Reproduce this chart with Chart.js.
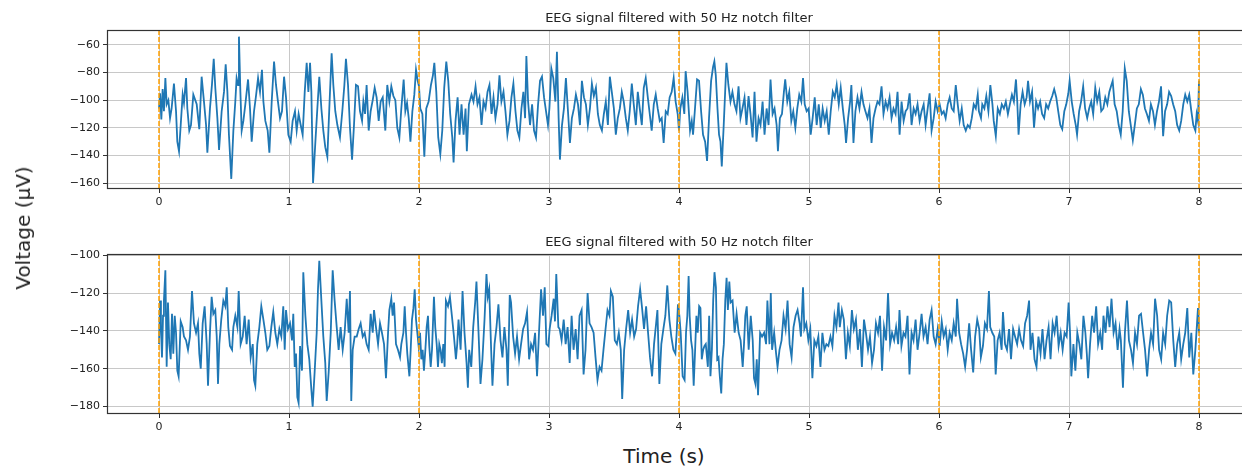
<!DOCTYPE html>
<html>
<head>
<meta charset="utf-8">
<script src="https://cdn.jsdelivr.net/npm/chart.js@4.4.1/dist/chart.umd.min.js"></script>
<style>
  html, body { margin: 0; padding: 0; background: #fff; }
  body { width: 1242px; height: 466px; overflow: hidden; position: relative; font-family: "DejaVu Sans", sans-serif; }
  .panel { position: absolute; left: 0; }
  #topPanel { top: 0; }
  #bottomPanel { top: 225px; }
  .ylabel { position: absolute; left: 23px; top: 228px; transform: translate(-50%, -50%) rotate(-90deg); font-size: 20px; color: #222; white-space: nowrap; }
  .xlabel { position: absolute; left: 664px; top: 456px; transform: translate(-50%, -50%); font-size: 20px; color: #222; white-space: nowrap; }
</style>
</head>
<body>
<canvas id="topPanel" class="panel" width="1260" height="215"></canvas>
<canvas id="bottomPanel" class="panel" width="1260" height="215"></canvas>
<div class="ylabel">Voltage (µV)</div>
<div class="xlabel">Time (s)</div>
<script>
// Titles and axis ticks
const panelTitle = "EEG signal filtered with 50 Hz notch filter";
const xTicks = [0, 1, 2, 3, 4, 5, 6, 7, 8];
const topYTicks = [-60, -80, -100, -120, -140, -160];
const bottomYTicks = [-100, -120, -140, -160, -180];
const markerTimes = [0, 2, 4, 6, 8]; // orange dashed markers
const xLimits = [-0.4, 8.4];
const topYLimits = [-164.3, -49.2];
const bottomYLimits = [-183.9, -99.4];

// Top trace (time in s, voltage in µV)
const topTimes = [
  0, 0.008, 0.018, 0.028, 0.038, 0.049, 0.059, 0.072, 0.085, 0.097,
  0.115, 0.131, 0.141, 0.154, 0.167, 0.182, 0.192, 0.208, 0.218, 0.233,
  0.246, 0.264, 0.290, 0.310, 0.328, 0.346, 0.362, 0.372, 0.392, 0.408,
  0.421, 0.433, 0.449, 0.462, 0.482, 0.500, 0.513, 0.526, 0.538, 0.556,
  0.572, 0.587, 0.597, 0.608, 0.615, 0.626, 0.636, 0.649, 0.664, 0.685,
  0.700, 0.713, 0.731, 0.746, 0.762, 0.777, 0.792, 0.803, 0.818, 0.836,
  0.849, 0.867, 0.885, 0.900, 0.915, 0.931, 0.946, 0.962, 0.977, 0.995,
  1.013, 1.028, 1.046, 1.059, 1.074, 1.090, 1.105, 1.121, 1.136, 1.149,
  1.162, 1.172, 1.185, 1.203, 1.218, 1.233, 1.249, 1.264, 1.279, 1.295,
  1.310, 1.328, 1.341, 1.356, 1.372, 1.392, 1.410, 1.426, 1.438, 1.454,
  1.469, 1.485, 1.500, 1.515, 1.531, 1.546, 1.562, 1.572, 1.585, 1.597,
  1.613, 1.628, 1.644, 1.659, 1.674, 1.690, 1.705, 1.721, 1.741, 1.756,
  1.772, 1.787, 1.803, 1.818, 1.833, 1.849,
  1.864, 1.882, 1.895, 1.908, 1.921, 1.934, 1.949, 1.964, 1.977, 1.990,
  2.000, 2.010, 2.026, 2.041, 2.056, 2.074, 2.092, 2.107, 2.118, 2.133,
  2.148, 2.164, 2.179, 2.194, 2.210, 2.225, 2.240, 2.256, 2.266, 2.281,
  2.297, 2.312, 2.327, 2.343, 2.358, 2.368, 2.384, 2.404, 2.419, 2.435,
  2.450, 2.465, 2.481, 2.496, 2.512, 2.527, 2.542, 2.558, 2.573, 2.588,
  2.604, 2.619, 2.634, 2.650, 2.665, 2.680, 2.696, 2.711, 2.726, 2.742,
  2.757, 2.772, 2.788, 2.803, 2.816, 2.826, 2.839, 2.854, 2.870, 2.885,
  2.900, 2.916, 2.931, 2.946, 2.962, 2.977, 2.992, 3.003, 3.018, 3.033,
  3.049, 3.061, 3.074, 3.084, 3.100, 3.115, 3.130, 3.146, 3.161, 3.176,
  3.192, 3.207, 3.223, 3.238, 3.253, 3.269, 3.284, 3.299, 3.315, 3.330,
  3.345, 3.361, 3.376, 3.391, 3.407, 3.422, 3.437, 3.453, 3.468, 3.483,
  3.499, 3.514, 3.529, 3.545, 3.560, 3.575, 3.591, 3.606, 3.621, 3.637,
  3.652, 3.668, 3.683, 3.698, 3.714, 3.729, 3.744, 3.760, 3.775, 3.790,
  3.806, 3.821, 3.836, 3.852, 3.867, 3.882, 3.898, 3.913, 3.928, 3.944,
  3.959, 3.974, 3.990, 4.000, 4.010, 4.026, 4.041, 4.051, 4.066,
  4.085, 4.098, 4.108, 4.123, 4.139, 4.154, 4.170, 4.185, 4.201, 4.216,
  4.231, 4.247, 4.262, 4.272, 4.283, 4.296, 4.308, 4.319, 4.329, 4.344,
  4.355, 4.365, 4.380, 4.396, 4.411, 4.427, 4.442, 4.458, 4.473, 4.488,
  4.504, 4.519, 4.535, 4.550, 4.566, 4.581, 4.596, 4.612, 4.627, 4.643,
  4.658, 4.674, 4.689, 4.704, 4.720, 4.735, 4.751, 4.761, 4.776, 4.792,
  4.807, 4.817, 4.833, 4.848, 4.864, 4.879, 4.895, 4.910, 4.925, 4.941,
  4.954, 4.967, 4.982, 4.997, 5.013, 5.028, 5.044, 5.059, 5.075, 5.090,
  5.105, 5.121, 5.136, 5.152, 5.167, 5.183, 5.198, 5.213, 5.229, 5.244,
  5.260, 5.275, 5.285, 5.301, 5.316, 5.326, 5.342, 5.357, 5.373, 5.388,
  5.404, 5.419, 5.434, 5.450, 5.465, 5.481, 5.496, 5.512, 5.527, 5.542,
  5.558, 5.573, 5.589, 5.604, 5.620, 5.635, 5.650, 5.666, 5.681, 5.697,
  5.712, 5.728, 5.743, 5.758, 5.774, 5.789, 5.805, 5.820, 5.835, 5.851,
  5.866, 5.882, 5.897, 5.913, 5.928, 5.943, 5.959, 5.974, 5.990, 6.005,
  6.021, 6.036, 6.051, 6.067, 6.082, 6.098, 6.113, 6.129, 6.144, 6.159,
  6.175, 6.190, 6.206, 6.221, 6.237, 6.252, 6.267, 6.283, 6.298,
  6.307, 6.323, 6.333, 6.349, 6.364, 6.380, 6.395, 6.411, 6.421, 6.437,
  6.452, 6.468, 6.483, 6.499, 6.514, 6.530, 6.545, 6.561, 6.576, 6.592,
  6.602, 6.612, 6.628, 6.643, 6.659, 6.674, 6.685, 6.700, 6.716, 6.731,
  6.747, 6.762, 6.778, 6.793, 6.809, 6.824, 6.840, 6.855, 6.871, 6.886,
  6.902, 6.917, 6.933, 6.948, 6.964, 6.979, 6.995, 7.005, 7.021, 7.036,
  7.052, 7.062, 7.078, 7.093, 7.109, 7.124, 7.140, 7.155, 7.171, 7.186,
  7.202, 7.217, 7.233, 7.248, 7.264, 7.279, 7.295, 7.310, 7.326, 7.336,
  7.351, 7.367, 7.382, 7.398, 7.413, 7.429, 7.444, 7.460, 7.475, 7.491,
  7.506, 7.522, 7.537, 7.553, 7.568, 7.584, 7.599, 7.615, 7.630, 7.646,
  7.661, 7.677, 7.692, 7.708, 7.724, 7.739, 7.755, 7.770, 7.786, 7.801,
  7.817, 7.832, 7.848, 7.863, 7.879, 7.894, 7.910, 7.925, 7.941, 7.956,
  7.972, 7.982, 7.992, 8.000
];
const topVolts = [
  -106, -95, -114, -92, -108, -84, -103, -100, -113, -106,
  -88, -108, -130, -137, -118, -96, -102, -84, -106, -122,
  -118, -96, -103, -121, -83, -101, -118, -138, -106, -88,
  -70, -91, -113, -136, -108, -94, -74, -94, -125, -157,
  -122, -101, -84, -89, -54, -94, -122, -115, -103, -85,
  -106, -130, -108, -97, -84, -94, -78, -101, -115, -122,
  -138, -101, -72, -89, -101, -113, -108, -83, -98, -125,
  -130, -115, -108, -122, -110, -118, -125, -94, -73, -94,
  -73, -94, -160, -130, -106, -83, -106, -122, -134, -141,
  -106, -66, -89, -108, -118, -127, -108, -89, -70, -89,
  -120, -143, -118, -89, -90, -108, -115, -101, -110, -89,
  -122, -108, -100, -91, -98, -115, -101, -98, -122, -89,
  -101, -90, -97, -100, -120, -127,
  -106, -85, -108, -102, -113, -130, -108, -96, -78, -86,
  -90, -106, -110, -141, -106, -101, -89, -82, -73, -94,
  -127, -139, -122, -91, -72, -86, -110, -127, -145, -115,
  -98, -125, -103, -125, -106, -137, -103, -96, -101, -90,
  -103, -98, -118, -101, -106, -94, -89, -110, -98, -113,
  -103, -82, -101, -94, -108, -125, -115, -98, -88, -108,
  -122, -127, -106, -94, -113, -68, -101, -118, -103, -122,
  -127, -103, -86, -83, -98, -108, -118, -106, -77, -84,
  -101, -65, -113, -143, -118, -106, -84, -108, -131, -113,
  -106, -96, -103, -118, -86, -98, -103, -118, -106, -88,
  -97, -91, -110, -118, -122, -110, -101, -118, -83, -94,
  -106, -125, -113, -106, -94, -101, -113, -122, -108, -88,
  -103, -118, -94, -106, -118, -91, -84, -98, -110, -122,
  -103, -96, -106, -115, -113, -131, -108, -110, -98, -94,
  -84, -101, -110, -122, -106, -98, -110, -79, -94,
  -122, -115, -125, -106, -85, -86, -108, -125, -130, -144,
  -113, -86, -76, -72, -82, -106, -125, -130, -148, -118,
  -94, -73, -89, -101, -94, -103, -108, -90, -113, -106,
  -98, -118, -97, -110, -127, -94, -130, -113, -118, -101,
  -125, -106, -118, -85, -110, -106, -118, -137, -113, -110,
  -94, -85, -101, -94, -115, -108, -120, -106, -96, -101,
  -84, -103, -108, -106, -125, -113, -98, -118, -103, -120,
  -106, -115, -108, -125, -108, -94, -98, -89, -103, -91,
  -106, -118, -131, -113, -101, -89, -131, -108, -98, -106,
  -94, -103, -108, -113, -106, -131, -113, -106, -101, -103,
  -90, -110, -101, -106, -98, -113, -106, -110, -94, -125,
  -101, -115, -108, -106, -95, -118, -106, -110, -103, -115,
  -108, -103, -118, -106, -95, -122, -113, -101, -108, -103,
  -110, -108, -113, -103, -98, -106, -108, -89, -103, -115,
  -106, -118, -122, -118, -120, -113, -103, -106, -96,
  -108, -113, -103, -106, -97, -108, -89, -103, -115, -126,
  -106, -110, -103, -106, -101, -110, -103, -96, -101, -85,
  -101, -125, -103, -94, -103, -98, -86, -101, -94, -120,
  -101, -106, -101, -110, -113, -103, -106, -101, -97, -92,
  -98, -108, -118, -121, -108, -103, -95, -86, -101, -110,
  -118, -125, -108, -101, -90, -106, -113, -106, -101, -110,
  -91, -101, -94, -108, -106, -98, -103, -94, -89, -86,
  -103, -108, -118, -125, -108, -77, -86, -108, -118, -129,
  -118, -106, -103, -92, -96, -106, -110, -115, -103, -108,
  -118, -108, -101, -90, -126, -108, -103, -94, -97, -103,
  -108, -118, -122, -115, -103, -96, -101, -96, -108, -118,
  -122, -110, -115, -86
];

// Bottom trace (time in s, voltage in µV)
const bottomTimes = [
  0.000, 0.008, 0.015, 0.023, 0.031, 0.038, 0.049, 0.059, 0.069, 0.079,
  0.090, 0.100, 0.110, 0.121, 0.131, 0.141, 0.151, 0.167, 0.182, 0.192,
  0.208, 0.223, 0.238, 0.254, 0.269, 0.285, 0.300, 0.310, 0.321, 0.336,
  0.351, 0.367, 0.377, 0.392, 0.405, 0.418, 0.433, 0.444, 0.454, 0.464,
  0.479, 0.495, 0.510, 0.521, 0.533, 0.546, 0.562, 0.572, 0.587, 0.603,
  0.613, 0.628, 0.644, 0.659, 0.674, 0.690, 0.705, 0.721, 0.731, 0.741,
  0.756, 0.772, 0.787, 0.803, 0.818, 0.833, 0.849, 0.864, 0.879, 0.895,
  0.910, 0.926, 0.941, 0.956, 0.967, 0.977, 0.992, 1.008, 1.023, 1.033,
  1.044, 1.054, 1.064, 1.074, 1.085, 1.100, 1.110, 1.126, 1.141, 1.156,
  1.172, 1.182, 1.197, 1.213, 1.223, 1.233, 1.249, 1.264, 1.279, 1.290,
  1.305, 1.321, 1.336, 1.351, 1.367, 1.382, 1.397, 1.413, 1.428, 1.444,
  1.459, 1.469, 1.479, 1.490, 1.505, 1.521, 1.536, 1.551, 1.567, 1.582,
  1.597, 1.613, 1.628, 1.644, 1.654, 1.669, 1.685, 1.700, 1.715, 1.731,
  1.746, 1.762, 1.772, 1.787, 1.797, 1.808, 1.823, 1.838, 1.854,
  1.864, 1.880, 1.890, 1.900, 1.910, 1.926, 1.936, 1.946, 1.957, 1.967,
  1.977, 1.987, 1.997, 2.008, 2.018, 2.028, 2.038, 2.049, 2.059, 2.069,
  2.079, 2.090, 2.100, 2.115, 2.125, 2.136, 2.146, 2.156, 2.166, 2.176,
  2.187, 2.197, 2.207, 2.223, 2.238, 2.253, 2.269, 2.284, 2.294, 2.304,
  2.320, 2.335, 2.350, 2.366, 2.376, 2.386, 2.402, 2.417, 2.432, 2.442,
  2.458, 2.473, 2.488, 2.504, 2.519, 2.529, 2.540, 2.555, 2.565, 2.581,
  2.596, 2.611, 2.627, 2.642, 2.657, 2.673, 2.683, 2.698, 2.708, 2.724,
  2.739, 2.754, 2.770, 2.785, 2.801, 2.816, 2.831, 2.847, 2.862, 2.877,
  2.893, 2.908, 2.923, 2.939, 2.954, 2.967, 2.980, 2.995, 3.005, 3.020,
  3.036, 3.046, 3.056, 3.072, 3.082, 3.097, 3.113, 3.128, 3.143, 3.159,
  3.174, 3.189, 3.205, 3.220, 3.235, 3.251, 3.266, 3.281, 3.297, 3.312,
  3.327, 3.343, 3.358, 3.373, 3.389, 3.404, 3.419, 3.435, 3.450, 3.465,
  3.476, 3.491, 3.506, 3.522, 3.537, 3.552, 3.563, 3.578, 3.593, 3.609,
  3.624, 3.639, 3.655, 3.670, 3.685, 3.701, 3.716, 3.731, 3.747, 3.762,
  3.777, 3.793, 3.808, 3.824, 3.834, 3.849, 3.864, 3.880, 3.895, 3.910,
  3.926, 3.941, 3.957, 3.972, 3.982, 3.992, 4.003, 4.013, 4.028, 4.043,
  4.054, 4.064, 4.074,
  4.082, 4.093, 4.103, 4.113, 4.124, 4.134, 4.144, 4.155, 4.165, 4.175,
  4.186, 4.196, 4.206, 4.222, 4.232, 4.242, 4.253, 4.263, 4.273, 4.284,
  4.294, 4.304, 4.314, 4.325, 4.335, 4.345, 4.356, 4.366, 4.376, 4.387,
  4.397, 4.412, 4.428, 4.443, 4.459, 4.474, 4.490, 4.500, 4.510, 4.521,
  4.536, 4.552, 4.567, 4.577, 4.588, 4.598, 4.608, 4.624, 4.639, 4.655,
  4.670, 4.680, 4.696, 4.706, 4.716, 4.732, 4.747, 4.758, 4.773, 4.789,
  4.804, 4.820, 4.835, 4.851, 4.866, 4.881, 4.897, 4.912, 4.928, 4.938,
  4.954, 4.964, 4.979, 4.995, 5.010, 5.026, 5.041, 5.057, 5.072, 5.088,
  5.103, 5.119, 5.134, 5.149, 5.165, 5.180, 5.196, 5.211, 5.227, 5.237,
  5.253, 5.268, 5.284, 5.299, 5.314, 5.330, 5.345, 5.361, 5.376, 5.392,
  5.407, 5.423, 5.438, 5.454, 5.469, 5.485, 5.500, 5.515, 5.531, 5.546,
  5.562, 5.577, 5.593, 5.608, 5.624, 5.639, 5.655, 5.670, 5.686, 5.696,
  5.711, 5.727, 5.742, 5.758, 5.773, 5.789, 5.804, 5.820, 5.835, 5.851,
  5.866, 5.881, 5.897, 5.912, 5.928, 5.943, 5.959, 5.974, 5.990, 6.005,
  6.021, 6.036, 6.052, 6.067, 6.082, 6.098, 6.113, 6.129, 6.139, 6.155,
  6.170, 6.186, 6.201, 6.216, 6.232, 6.247, 6.263, 6.278, 6.294, 6.309,
  6.322, 6.338, 6.353, 6.369, 6.384, 6.394, 6.410, 6.425, 6.436, 6.451,
  6.466, 6.482, 6.492, 6.508, 6.523, 6.539, 6.554, 6.570, 6.585, 6.601,
  6.616, 6.631, 6.647, 6.662, 6.678, 6.693, 6.704, 6.719, 6.735, 6.750,
  6.765, 6.781, 6.796, 6.812, 6.827, 6.843, 6.858, 6.874, 6.889, 6.905,
  6.920, 6.936, 6.951, 6.966, 6.982, 6.997, 7.008, 7.018, 7.034, 7.049,
  7.064, 7.080, 7.095, 7.111, 7.126, 7.137, 7.147, 7.162, 7.178, 7.193,
  7.209, 7.224, 7.240, 7.255, 7.265, 7.281, 7.296, 7.312, 7.327, 7.343,
  7.358, 7.374, 7.389, 7.399, 7.415, 7.430, 7.446, 7.461, 7.477, 7.492,
  7.508, 7.523, 7.539, 7.554, 7.570, 7.585, 7.601, 7.616, 7.631, 7.647,
  7.662, 7.678, 7.693, 7.709, 7.724, 7.740, 7.755, 7.771, 7.786, 7.802,
  7.817, 7.832, 7.848, 7.863, 7.879, 7.894, 7.910, 7.925, 7.941, 7.956,
  7.972, 7.982, 7.992, 8.000
];
const bottomVolts = [
  -147, -124, -138, -154, -132, -124, -108, -159, -125, -147,
  -155, -131, -152, -132, -141, -161, -164, -135, -138, -143,
  -145, -150, -143, -119, -136, -141, -136, -152, -160, -136,
  -127, -147, -169, -141, -122, -131, -129, -143, -168, -147,
  -134, -124, -127, -117, -138, -148, -150, -138, -132, -138,
  -119, -147, -143, -132, -147, -134, -154, -147, -166, -169,
  -147, -138, -127, -134, -141, -150, -148, -138, -130, -141,
  -147, -139, -143, -127, -150, -129, -139, -136, -145, -131,
  -159, -152, -175, -178, -148, -161, -109, -132, -147, -155,
  -171, -180, -162, -141, -118, -103, -124, -143, -157, -177,
  -162, -141, -108, -124, -138, -150, -138, -150, -141, -123,
  -141, -119, -177, -150, -143, -143, -139, -136, -143, -141,
  -147, -150, -131, -141, -129, -138, -147, -136, -141, -147,
  -165, -141, -129, -123, -132, -125, -147, -150, -154,
  -147, -141, -127, -141, -152, -164, -150, -134, -128, -118,
  -134, -141, -148, -141, -155, -150, -161, -150, -138, -132,
  -148, -159, -150, -122, -138, -147, -159, -147, -150, -157,
  -147, -159, -124, -127, -122, -132, -143, -155, -147, -134,
  -150, -119, -141, -157, -170, -150, -159, -138, -125, -114,
  -141, -168, -155, -134, -110, -122, -118, -150, -169, -147,
  -138, -126, -145, -154, -138, -150, -169, -121, -125, -143,
  -152, -143, -155, -147, -139, -136, -130, -155, -147, -150,
  -141, -164, -141, -118, -132, -117, -147, -148, -139, -132,
  -123, -135, -110, -138, -139, -145, -134, -147, -138, -157,
  -132, -150, -139, -155, -132, -129, -163, -150, -120, -136,
  -138, -141, -154, -166, -159, -161, -150, -139, -129, -132,
  -119, -122, -145, -147, -141, -150, -176, -150, -139, -129,
  -141, -134, -143, -139, -127, -118, -128, -139, -127, -141,
  -154, -164, -147, -136, -129, -168, -147, -139, -132, -116,
  -134, -143, -150, -152, -141, -126, -132, -141, -164, -166,
  -141, -132, -111,
  -132, -145, -150, -169, -150, -132, -141, -127, -128, -155,
  -150, -148, -147, -159, -132, -164, -150, -124, -109, -117,
  -155, -154, -164, -173, -155, -147, -124, -112, -129, -114,
  -125, -124, -141, -131, -141, -145, -159, -147, -132, -127,
  -150, -132, -145, -165, -168, -155, -174, -141, -143, -141,
  -147, -124, -147, -120, -150, -141, -152, -159, -150, -145,
  -132, -139, -124, -147, -154, -138, -132, -129, -136, -143,
  -117, -139, -136, -145, -139, -165, -145, -148, -143, -159,
  -141, -150, -147, -148, -143, -148, -132, -138, -125, -138,
  -129, -134, -155, -141, -148, -129, -139, -134, -150, -139,
  -159, -134, -141, -150, -143, -157, -150, -136, -141, -132,
  -161, -138, -145, -120, -147, -141, -145, -138, -147, -129,
  -148, -141, -143, -132, -163, -141, -145, -134, -150, -141,
  -131, -143, -138, -147, -134, -129, -143, -147, -139, -148,
  -135, -143, -139, -150, -141, -145, -136, -143, -123, -141,
  -147, -152, -159, -150, -136, -150, -162, -143, -134, -139,
  -154, -148, -136, -139, -119, -138, -141, -143, -163, -145,
  -141, -150, -130, -147, -150, -139, -155, -139, -143, -147,
  -139, -145, -148, -136, -132, -124, -150, -141, -155, -159,
  -143, -152, -139, -155, -145, -138, -155, -136, -141, -132,
  -148, -141, -150, -141, -143, -125, -141, -164, -147, -161,
  -141, -147, -155, -132, -141, -152, -165, -147, -132, -141,
  -127, -147, -141, -150, -132, -141, -127, -138, -123, -141,
  -136, -150, -139, -145, -170, -141, -124, -145, -150, -157,
  -141, -147, -132, -131, -141, -150, -164, -150, -141, -147,
  -123, -132, -150, -155, -141, -147, -132, -124, -125, -145,
  -159, -147, -141, -155, -147, -141, -128, -154, -141, -163,
  -150, -139, -128, -141
];

const traceColor = '#1f77b4';
const markerColor = '#ffa000';
const gridColor = '#c8c8c8';
const spineColor = '#333333';
const fontFamily = '"DejaVu Sans", sans-serif';

function toPoints(times, volts) {
  const n = Math.min(times.length, volts.length);
  const pts = [];
  for (let i = 0; i < n; i++) pts.push({ x: times[i], y: volts[i] });
  return pts;
}

function minusLabel(v) {
  return v < 0 ? '\u2212' + Math.abs(v) : String(v);
}

// Draws the orange dashed markers, the axes frame and the panel title
const panelDecor = {
  id: 'panelDecor',
  afterDatasetsDraw(chart, args, opts) {
    const { ctx, chartArea: a, scales } = chart;
    ctx.save();
    ctx.beginPath();
    ctx.rect(a.left, a.top, a.width, a.height);
    ctx.clip();
    ctx.strokeStyle = markerColor;
    ctx.lineWidth = 1.5;
    ctx.setLineDash([5, 2]);
    markerTimes.forEach(t => {
      const px = Math.round(scales.x.getPixelForValue(t));
      ctx.beginPath();
      ctx.moveTo(px, a.top);
      ctx.lineTo(px, a.bottom);
      ctx.stroke();
    });
    ctx.restore();

    ctx.save();
    ctx.strokeStyle = spineColor;
    ctx.lineWidth = 1.2;
    ctx.strokeRect(a.left + 0.5, a.top + 0.5, a.width, a.height - 1);
    ctx.fillStyle = '#222';
    ctx.font = '13px ' + fontFamily;
    ctx.textAlign = 'center';
    ctx.textBaseline = 'middle';
    ctx.fillText(opts.text, (a.left + a.right) / 2, a.top - 11);
    ctx.restore();
  }
};

function makePanel(canvasId, times, volts, yTicks, yLimits, padTop) {
  const ctx = document.getElementById(canvasId).getContext('2d');
  return new Chart(ctx, {
    type: 'line',
    data: {
      datasets: [{
        data: toPoints(times, volts),
        borderColor: traceColor,
        borderWidth: 1.8,
        pointRadius: 0,
        tension: 0,
        fill: false
      }]
    },
    options: {
      responsive: false,
      animation: false,
      events: [],
      layout: { padding: { top: padTop, right: 9, left: 0, bottom: 0 } },
      plugins: {
        legend: { display: false },
        tooltip: { enabled: false },
        panelDecor: { text: panelTitle }
      },
      scales: {
        x: {
          type: 'linear',
          min: xLimits[0],
          max: xLimits[1],
          afterBuildTicks: s => { s.ticks = xTicks.map(v => ({ value: v })); },
          afterFit: s => { s.height = 26; },
          border: { display: false },
          grid: { color: gridColor, lineWidth: 1, tickLength: 4, tickColor: spineColor },
          ticks: {
            padding: 3,
            autoSkip: false,
            maxRotation: 0,
            color: '#222',
            font: { family: fontFamily, size: 11 },
            callback: v => String(v)
          }
        },
        y: {
          type: 'linear',
          min: yLimits[0],
          max: yLimits[1],
          afterBuildTicks: s => { s.ticks = yTicks.map(v => ({ value: v })); },
          afterFit: s => { s.width = 107; },
          border: { display: false },
          grid: { color: gridColor, lineWidth: 1, tickLength: 4, tickColor: spineColor },
          ticks: {
            padding: 3,
            autoSkip: false,
            color: '#222',
            font: { family: fontFamily, size: 11 },
            callback: v => minusLabel(v)
          }
        }
      }
    },
    plugins: [panelDecor]
  });
}

makePanel('topPanel', topTimes, topVolts, topYTicks, topYLimits, 30);
makePanel('bottomPanel', bottomTimes, bottomVolts, bottomYTicks, bottomYLimits, 29);
</script>
</body>
</html>
